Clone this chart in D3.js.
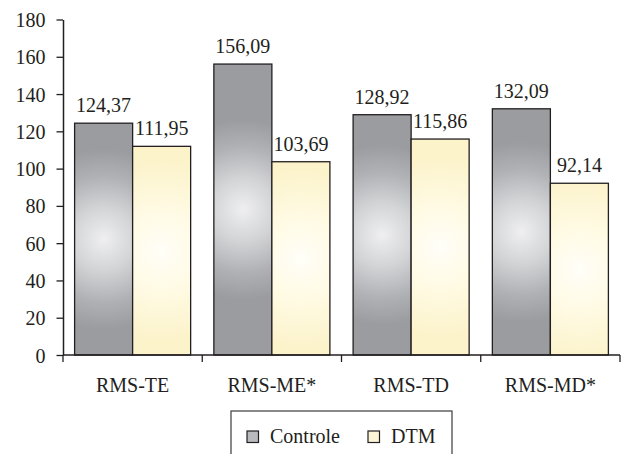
<!DOCTYPE html>
<html>
<head>
<meta charset="utf-8">
<script src="https://cdn.jsdelivr.net/npm/d3@7"></script>
<style>
  html, body { margin: 0; padding: 0; background: #fff; }
  svg { display: block; }
</style>
</head>
<body>
<svg id="chart" width="624" height="454"></svg>
<script>
// Chart data
const categories = ["RMS-TE", "RMS-ME*", "RMS-TD", "RMS-MD*"];
const seriesNames = ["Controle", "DTM"];
const controle = [124.37, 156.09, 128.92, 132.09];
const dtm = [111.95, 103.69, 115.86, 92.14];
const yTicks = [0, 20, 40, 60, 80, 100, 120, 140, 160, 180];

const seriesValues = { "Controle": controle, "DTM": dtm };
const fmt = v => v.toFixed(2).replace(".", ",");

const svg = d3.select("#chart");
const plotLeft = 63, plotRight = 620, plotTop = 19.5, plotBottom = 355;
const fontSize = 20;
const fontFamily = "'Liberation Serif', 'Times New Roman', serif";
const ink = "#231f20";

// Radial shading stops for each series (centre -> rim)
const shade = {
  "Controle": [["0%", "#efeff0"], ["35%", "#d3d4d6"], ["70%", "#b0b1b5"], ["100%", "#9a9ca0"]],
  "DTM": [["0%", "#fffef8"], ["40%", "#fffbe6"], ["100%", "#fcf3cb"]]
};
const swatchFill = { "Controle": "#b9babd", "DTM": "#fdf6d6" };

const y = d3.scaleLinear().domain([0, 180]).range([plotBottom, plotTop]);
const x0 = d3.scaleBand().domain(categories).range([plotLeft, plotRight]).padding(0);
const x1 = d3.scaleBand().domain(seriesNames).range([0, x0.bandwidth()])
  .paddingInner(0).paddingOuter(0.2);

function styleText(sel) {
  sel.style("font-family", fontFamily)
    .style("font-size", fontSize + "px")
    .attr("fill", ink);
}

const barData = categories.flatMap((c, i) => seriesNames.map((s, j) => ({
  c, s, v: seriesValues[s][i], id: `shade-${i}-${j}`
})));

// One gradient per bar, centred on the bar
const defs = svg.append("defs");
barData.forEach(d => {
  const cx = x0(d.c) + x1(d.s) + x1.bandwidth() / 2;
  const cy = (y(d.v) + plotBottom) / 2;
  const g = defs.append("radialGradient")
    .attr("id", d.id)
    .attr("gradientUnits", "userSpaceOnUse")
    .attr("cx", cx).attr("cy", cy).attr("r", 90)
    .attr("fx", cx).attr("fy", cy);
  shade[d.s].forEach(([o, col]) => g.append("stop").attr("offset", o).attr("stop-color", col));
});

// Bars
svg.append("g").selectAll("rect")
  .data(barData)
  .join("rect")
  .attr("x", d => x0(d.c) + x1(d.s))
  .attr("y", d => y(d.v))
  .attr("width", x1.bandwidth())
  .attr("height", d => plotBottom - y(d.v))
  .attr("fill", d => `url(#${d.id})`)
  .attr("stroke", "#231f20")
  .attr("stroke-width", 1.3);

// Value labels
svg.append("g").selectAll("text")
  .data(barData)
  .join("text")
  .attr("x", d => x0(d.c) + x1(d.s) + x1.bandwidth() / 2)
  .attr("y", d => y(d.v) - 11)
  .attr("text-anchor", "middle")
  .call(styleText)
  .text(d => fmt(d.v));

// Y axis
const yAxis = svg.append("g")
  .attr("transform", `translate(${plotLeft},0)`)
  .call(d3.axisLeft(y).tickValues(yTicks).tickSize(6.5).tickPadding(11).tickSizeOuter(0));
yAxis.attr("font-family", null).attr("font-size", null);
yAxis.select(".domain").attr("stroke", ink).attr("stroke-width", 1.5);
yAxis.selectAll(".tick line").attr("stroke", ink).attr("stroke-width", 1.3);
yAxis.selectAll(".tick text")
  .call(styleText)
  .attr("dy", "0.35em");

// X axis: baseline with ticks between categories
const xAxisG = svg.append("g");
xAxisG.append("line")
  .attr("x1", plotLeft).attr("x2", plotRight)
  .attr("y1", plotBottom).attr("y2", plotBottom)
  .attr("stroke", ink).attr("stroke-width", 1.5);
const boundaries = categories.map(c => x0(c)).concat([x0(categories[categories.length - 1]) + x0.bandwidth()]);
xAxisG.selectAll("line.tk")
  .data(boundaries)
  .join("line")
  .attr("class", "tk")
  .attr("x1", d => d).attr("x2", d => d)
  .attr("y1", plotBottom).attr("y2", plotBottom + 7)
  .attr("stroke", ink).attr("stroke-width", 1.3);
xAxisG.selectAll("text")
  .data(categories)
  .join("text")
  .attr("x", d => x0(d) + x0.bandwidth() / 2)
  .attr("y", 392)
  .attr("text-anchor", "middle")
  .call(styleText)
  .text(d => d);

// Legend
const legend = svg.append("g");
legend.append("rect")
  .attr("x", 231).attr("y", 411)
  .attr("width", 221).attr("height", 60)
  .attr("fill", "none")
  .attr("stroke", "#4a4a4a")
  .attr("stroke-width", 1.3);
const legendX = { "Controle": 247, "DTM": 368 };
seriesNames.forEach(s => {
  legend.append("rect")
    .attr("x", legendX[s]).attr("y", 431)
    .attr("width", 11.5).attr("height", 11.5)
    .attr("fill", swatchFill[s])
    .attr("stroke", "#231f20")
    .attr("stroke-width", 1.2);
  legend.append("text")
    .attr("x", legendX[s] + 23)
    .attr("y", 443)
    .call(styleText)
    .text(s);
});
</script>
</body>
</html>
